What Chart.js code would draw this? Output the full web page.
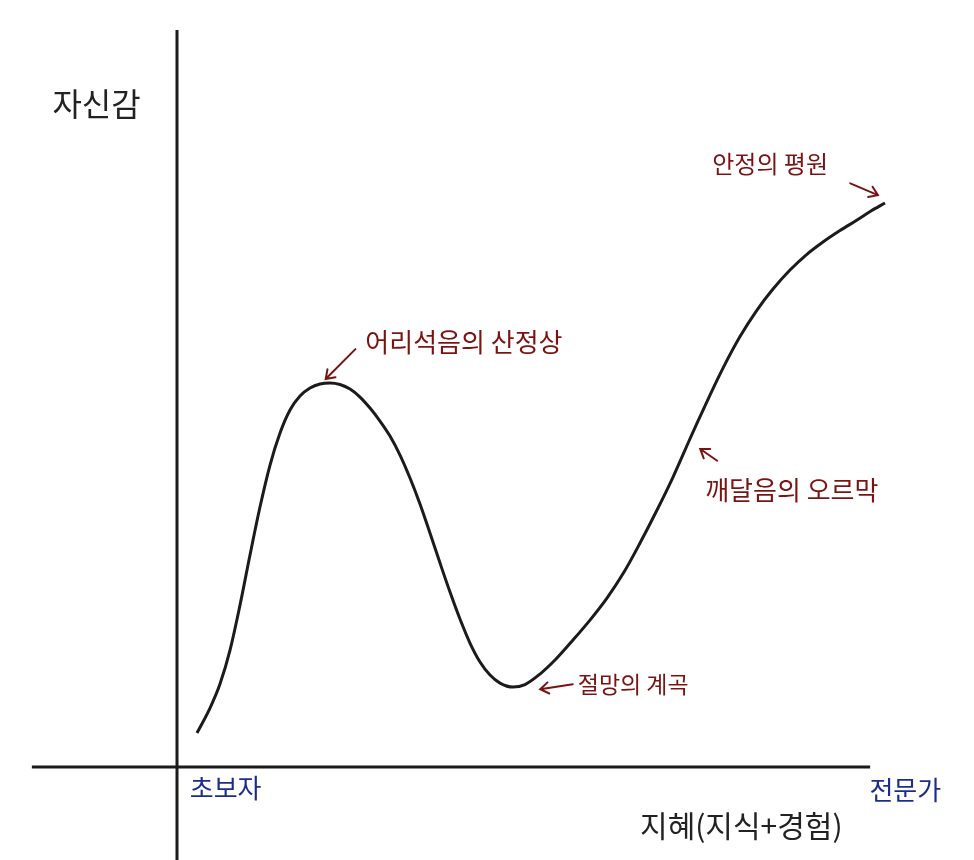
<!DOCTYPE html>
<html>
<head>
<meta charset="utf-8">
<script src="https://cdn.jsdelivr.net/npm/chart.js@4"></script>
<style>
  html, body { margin: 0; padding: 0; background: #fff; }
  #wrap { width: 974px; height: 860px; }
</style>
</head>
<body>
<div id="wrap"><canvas id="curve" width="974" height="860"></canvas></div>
<script>
// 지혜(x) vs 자신감(y)
const wisdom = [
  2.82, 4.66, 6.07, 7.49, 8.90, 10.31, 11.72, 13.14, 14.55, 15.96, 17.37, 18.79, 20.20, 21.61,
  23.02, 24.44, 25.85, 27.26, 28.67, 30.08, 31.50, 32.91, 34.32, 35.73, 37.15, 38.56, 39.97, 41.38, 42.80, 44.21, 45.62, 47.46,
  49.15, 51.27, 53.53, 55.93, 58.33, 60.73, 63.14, 65.40, 67.80, 70.06, 71.75, 73.45, 75.28, 77.12, 79.52, 81.92, 84.18, 86.58, 88.84, 91.24, 93.64, 96.05, 98.02, 100
];
const confidence = [
  6.03, 10.46, 14.72, 20.74, 28.72, 37.59, 46.10, 53.55, 59.22, 63.30, 65.78, 67.20, 67.91, 68.09,
  67.82, 67.02, 65.60, 63.65, 61.35, 58.69, 55.32, 51.24, 46.63, 41.49, 36.17, 31.03, 26.24, 21.99, 18.62, 16.31, 14.89, 14.18,
  14.63, 16.49, 19.15, 22.52, 26.06, 29.96, 34.57, 39.72, 45.57, 51.42, 56.21, 60.99, 65.96, 70.74, 76.33, 81.03, 84.75, 88.12, 90.78, 93.09, 95.12, 96.99, 98.58, 100
];

// annotations: text, anchor x, anchor y (data units)
const noteText = ['어리석음의 산정상', '절망의 계곡', '깨달음의 오르막', '안정의 평원'];
const noteX = [26.6, 56.6, 74.6, 75.6];
const noteY = [75.4, 14.7, 49.1, 106.9];
// arrow tail -> head (data units)
const arrowFrom = [[25.2, 74.1], [55.9, 14.7], [76.3, 54.3], [95.1, 103.5]];
const arrowTo = [[21.0, 68.8], [51.3, 13.8], [73.9, 56.4], [99.0, 101.4]];

const yTitle = '자신감';
const xTitle = '지혜(지식+경험)';
const xStart = '초보자';
const xEnd = '전문가';

const ink = '#1b1b1b';
const red = '#7a1414';
const blue = '#1c2c8c';
const font = '"Noto Sans CJK KR", "Noto Sans", sans-serif';

function arrow(ctx, x1, y1, x2, y2) {
  const a = Math.atan2(y2 - y1, x2 - x1);
  const h = 10;
  ctx.beginPath();
  ctx.moveTo(x1, y1);
  ctx.lineTo(x2, y2);
  ctx.moveTo(x2 - h * Math.cos(a - 0.6), y2 - h * Math.sin(a - 0.6));
  ctx.lineTo(x2, y2);
  ctx.lineTo(x2 - h * Math.cos(a + 0.6), y2 - h * Math.sin(a + 0.6));
  ctx.stroke();
}

const sketch = {
  id: 'sketch',
  beforeDatasetsDraw(chart) {
    const ctx = chart.ctx;
    const sx = chart.scales.x, sy = chart.scales.y;
    ctx.save();
    ctx.strokeStyle = ink;
    ctx.lineWidth = 3;
    ctx.beginPath();
    // y axis
    ctx.moveTo(sx.getPixelForValue(0), sy.getPixelForValue(130.7));
    ctx.lineTo(sx.getPixelForValue(0), sy.getPixelForValue(-16.5));
    // x axis
    ctx.moveTo(sx.getPixelForValue(-20.5), sy.getPixelForValue(0));
    ctx.lineTo(sx.getPixelForValue(97.9), sy.getPixelForValue(0));
    ctx.stroke();
    ctx.restore();
  },
  afterDatasetsDraw(chart) {
    const ctx = chart.ctx;
    const sx = chart.scales.x, sy = chart.scales.y;
    ctx.save();
    ctx.textBaseline = 'middle';
    ctx.textAlign = 'left';

    ctx.fillStyle = '#222';
    ctx.font = '32px ' + font;
    ctx.fillText(yTitle, sx.getPixelForValue(-17.6), sy.getPixelForValue(117.5));
    ctx.font = '30px ' + font;
    ctx.fillText(xTitle, sx.getPixelForValue(65.4), sy.getPixelForValue(-10.3));

    ctx.fillStyle = blue;
    ctx.font = '26px ' + font;
    ctx.fillText(xStart, sx.getPixelForValue(1.8), sy.getPixelForValue(-3.8));
    ctx.fillText(xEnd, sx.getPixelForValue(97.8), sy.getPixelForValue(-4.1));

    ctx.fillStyle = red;
    ctx.strokeStyle = red;
    ctx.lineWidth = 2;
    ctx.lineCap = 'round';
    const sizes = [26, 23, 26, 24];
    noteText.forEach((t, i) => {
      ctx.font = sizes[i] + 'px ' + font;
      ctx.fillText(t, sx.getPixelForValue(noteX[i]), sy.getPixelForValue(noteY[i]));
      arrow(ctx,
        sx.getPixelForValue(arrowFrom[i][0]), sy.getPixelForValue(arrowFrom[i][1]),
        sx.getPixelForValue(arrowTo[i][0]), sy.getPixelForValue(arrowTo[i][1]));
    });
    ctx.restore();
  }
};

new Chart(document.querySelector('#curve'), {
  type: 'line',
  data: {
    datasets: [{
      data: wisdom.map((x, i) => ({ x: x, y: confidence[i] })),
      borderColor: ink,
      borderWidth: 3,
      pointRadius: 0,
      fill: false,
      cubicInterpolationMode: 'monotone'
    }]
  },
  options: {
    responsive: false,
    animation: false,
    layout: { padding: 0 },
    plugins: { legend: { display: false }, tooltip: { enabled: false } },
    scales: {
      x: { type: 'linear', min: -25.0, max: 112.57, display: false },
      y: { type: 'linear', min: -16.48, max: 136.0, display: false }
    }
  },
  plugins: [sketch]
});
</script>
</body>
</html>
